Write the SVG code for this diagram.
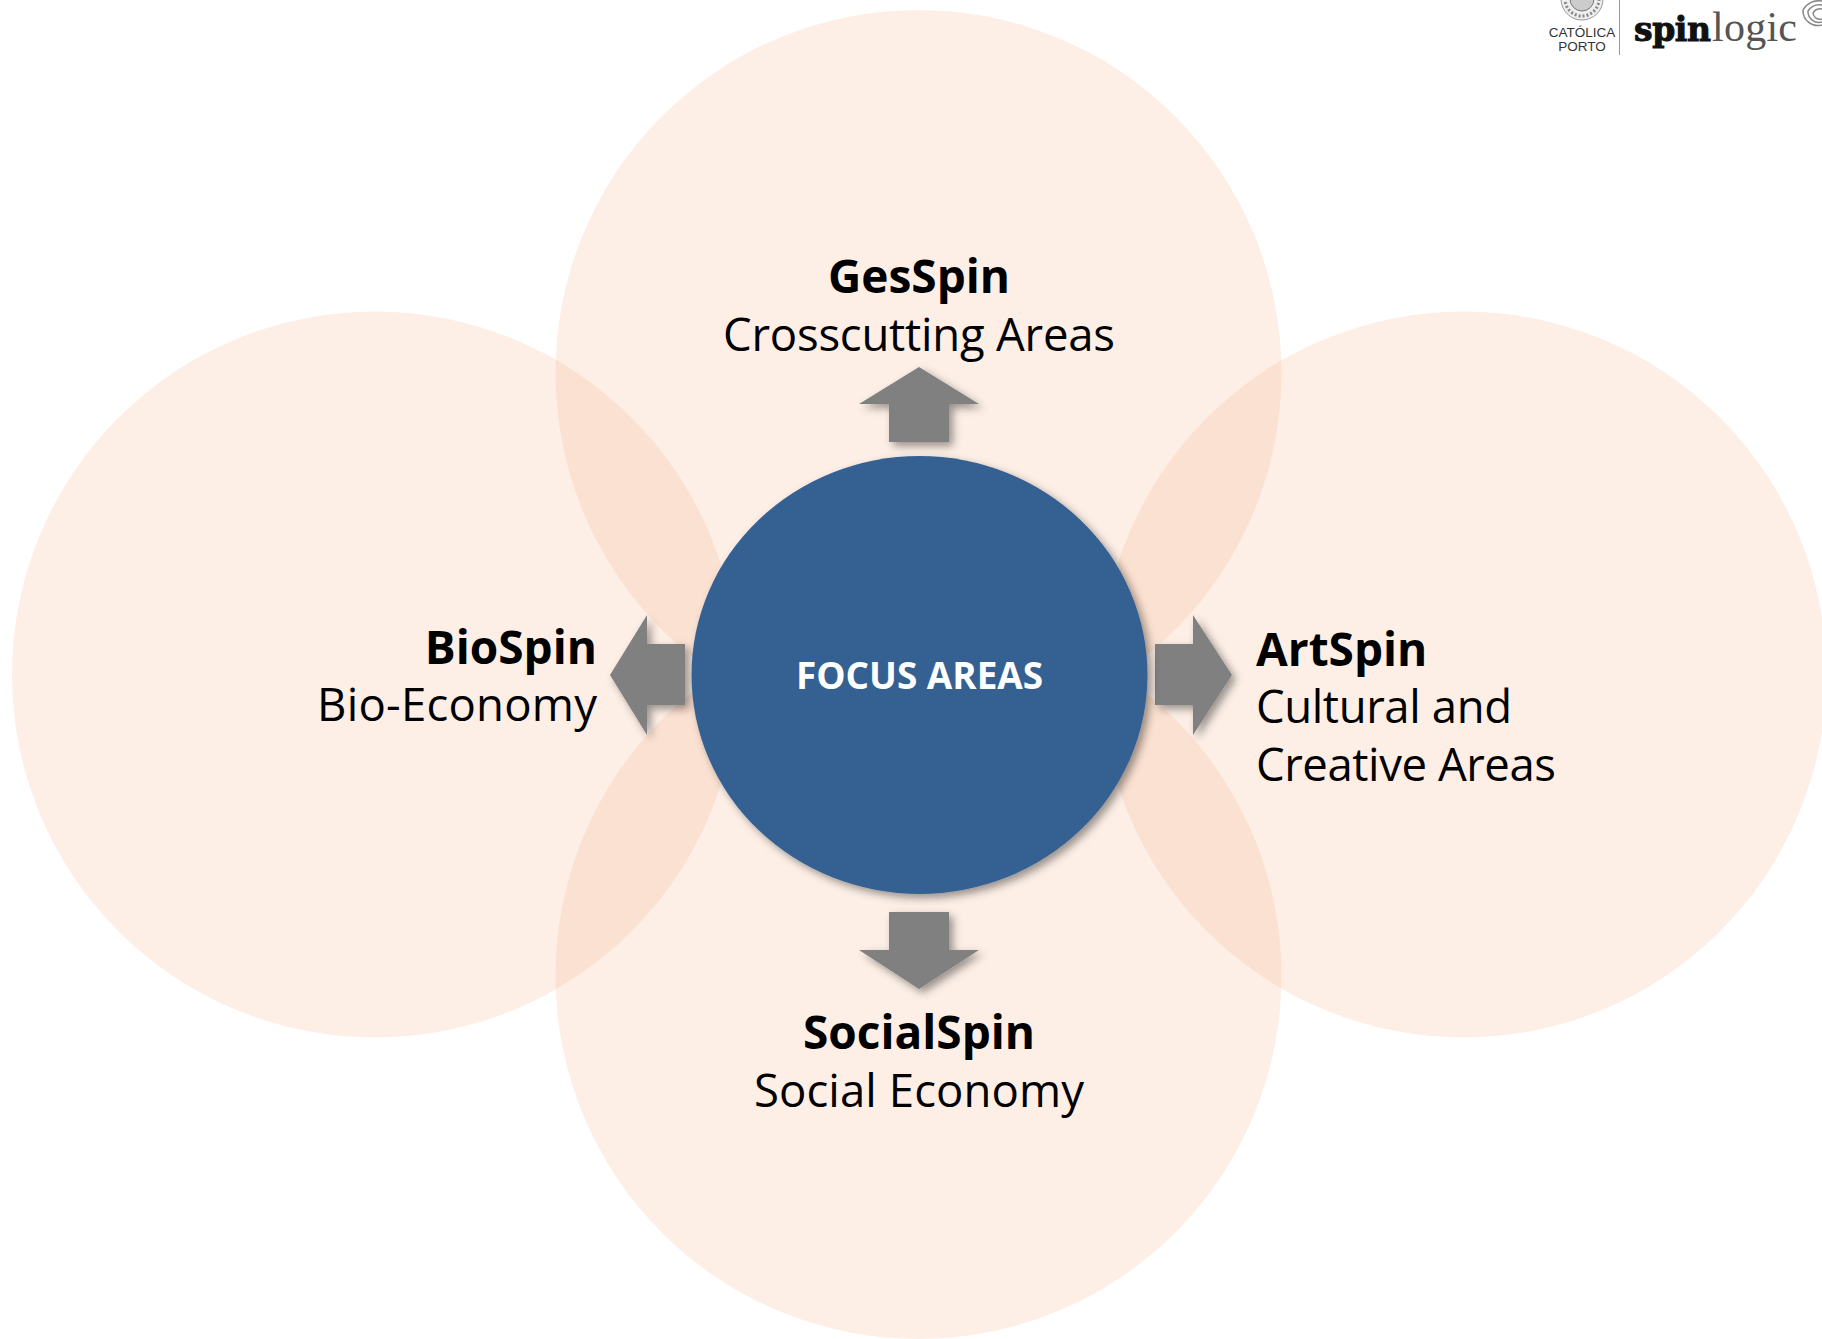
<svg xmlns="http://www.w3.org/2000/svg" width="1822" height="1339" viewBox="0 0 1822 1339">
<defs>
<filter id="sh" x="-30%" y="-30%" width="160%" height="160%"><feDropShadow dx="4" dy="4" stdDeviation="4" flood-color="#000" flood-opacity="0.4"/></filter>
</defs>
<style>
.petal{fill:#f5a069;fill-opacity:.165}
.arrow{fill:#808080;filter:url(#sh)}
text{font-family:"Open Sans","Noto Sans","Liberation Sans",sans-serif;fill:#000}
.t{font-size:45.5px}
.b{font-weight:700;font-size:46px}
.logo{font-family:"Liberation Sans",sans-serif;fill:#333;font-size:13.500px;text-anchor:middle}
</style>
<rect width="1822" height="1339" fill="#fff"/>
<g id="petal-top"><circle class="petal" cx="918.500" cy="373" r="363"/></g>
<g id="petal-left"><circle class="petal" cx="375" cy="674.500" r="363"/></g>
<g id="petal-right"><circle class="petal" cx="1463.500" cy="674.500" r="363"/></g>
<g id="petal-bottom"><circle class="petal" cx="918.500" cy="976" r="363"/></g>
<g id="connectors">
<path class="arrow" d="M919 367L979 404H949V442H889V404H859Z"/>
<path class="arrow" d="M610 675L647 615V644H685V705H647V735Z"/>
<path class="arrow" d="M1232 675L1193 615V644H1155V705H1193V735Z"/>
<path class="arrow" d="M919 989L979 950H949V912H889V950H859Z"/>
</g>
<g id="focus"><ellipse cx="919.500" cy="675" rx="228" ry="219" fill="#366092" filter="url(#sh)"/>
<text x="919.500" y="689" text-anchor="middle" style="font-weight:700;font-size:36.900px;fill:#fff">FOCUS AREAS</text></g>
<g id="gesspin"><text x="919" y="293" text-anchor="middle" class="b">GesSpin</text><text x="919" y="351" text-anchor="middle" class="t" textLength="392">Crosscutting Areas</text></g>
<g id="biospin"><text x="597" y="664" text-anchor="end" class="b">BioSpin</text><text x="597" y="721" text-anchor="end" class="t" textLength="280">Bio-Economy</text></g>
<g id="artspin"><text x="1256" y="666" class="b">ArtSpin</text><text x="1256" y="723" class="t" textLength="256">Cultural and</text><text x="1256" y="781" class="t" textLength="300">Creative Areas</text></g>
<g id="socialspin"><text x="919" y="1049" text-anchor="middle" class="b">SocialSpin</text><text x="919" y="1107" text-anchor="middle" class="t" textLength="330">Social Economy</text></g>
<g id="logo">
<circle cx="1582" cy="-1" r="21" fill="#eee" stroke="#999" stroke-width="1"/>
<circle cx="1582" cy="-1" r="17" fill="none" stroke="#888" stroke-width="3" stroke-dasharray="2 2"/>
<circle cx="1582" cy="-1" r="12" fill="#ccc" stroke="#777"/>
<text class="logo" x="1582" y="37">CATÓLICA</text><text class="logo" x="1582" y="51">PORTO</text>
<rect x="1619" y="0" width="1" height="55" fill="#999"/>
<text x="1634" y="41" style="font-family:'DejaVu Serif',serif;font-weight:700;font-size:33px;fill:#111;stroke:#111;stroke-width:1" textLength="77">spin</text>
<text x="1712" y="41" style="font-family:'Liberation Serif',serif;font-size:42px;fill:#555" textLength="85">logic</text>
<g fill="none" stroke="#888" stroke-width="1.500">
<path d="M1822 1A18 18 0 0 0 1803 10A15 15 0 0 0 1822 25"/>
<path d="M1822 5A14 14 0 0 0 1808 11A11 11 0 0 0 1822 22"/>
<path d="M1822 9A9 9 0 0 0 1813 13A7 7 0 0 0 1822 19"/>
</g>
</g>
</svg>
